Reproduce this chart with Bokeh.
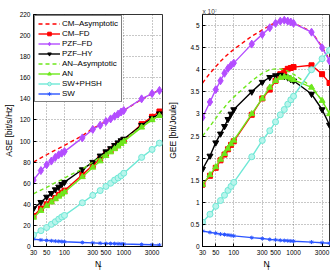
from bokeh.plotting import figure
from bokeh.layouts import row
from bokeh.models import FixedTicker, NumeralTickFormatter, Range1d, LogAxis
from bokeh.embed import file_html
from bokeh.resources import INLINE

NT = [30, 40, 50, 60, 70, 80, 90, 100, 200, 300, 400, 500, 600, 700, 800, 900, 1000, 2000, 3000, 4000]

# ASE [bit/s/Hz]
ase_cm_asym = [80, 84, 87, 89.5, 91.5, 93, 94.5, 96, 105, 112, 115.5, 118.8, 121.3, 123.6, 125.6, 127.5, 129, 139.5, 145, 148.5]
ase_cm_fd = [29, 36, 40, 43, 46, 49, 51, 53, 68, 77, 83, 88, 91, 94, 97, 99, 101, 116, 123, 128]
ase_pzf_fd = [63, 72, 77.5, 81, 84.5, 87, 88.5, 90, 103, 111, 115, 118.5, 121, 123.5, 125.5, 127.5, 129, 140, 145, 148]
ase_pzf_hy = [36, 42, 47, 50.5, 54, 56.5, 59, 61, 73, 80, 86, 90, 93, 96, 98.5, 100.5, 102, 115, 121.5, 126]
ase_an_asym = [50, 53.5, 56, 58.5, 60.5, 62, 63.5, 65, 73.5, 80, 84.5, 88.5, 91.5, 94.5, 97, 99, 101, 113.5, 120.5, 124.5]
ase_an = [27.5, 34, 38.5, 42, 45, 47.5, 49.5, 51.5, 66, 75, 81, 86, 89.5, 92.5, 95, 97.5, 99.5, 113, 120, 124]
ase_sw_phsh = [11, 15, 18, 21, 23.5, 26, 28, 29.5, 41.5, 48.5, 53, 57, 60, 63, 65, 67, 69.5, 84.5, 92, 98]
ase_sw = [7, 6.2, 5.8, 5.4, 5.1, 4.9, 4.7, 4.5, 3.8, 3.4, 3.1, 2.9, 2.8, 2.7, 2.6, 2.5, 2.4, 1.9, 1.6, 1.4]

# GEE [bit/Joule], in units of 1e7
gee_cm_asym = [3.70, 3.92, 4.07, 4.19, 4.28, 4.35, 4.41, 4.46, 4.76, 4.9, 5.0, 5.07, 5.11, 5.12, 5.11, 5.09, 5.06, 4.86, 4.52, 4.22]
gee_cm_fd = [1.4, 1.6, 1.78, 1.95, 2.08, 2.2, 2.3, 2.38, 2.98, 3.35, 3.55, 3.75, 3.9, 3.97, 4.02, 4.04, 4.06, 4.1, 3.9, 3.7]
gee_pzf_fd = [2.92, 3.27, 3.55, 3.75, 3.92, 4.03, 4.1, 4.15, 4.58, 4.8, 4.95, 5.05, 5.1, 5.12, 5.1, 5.08, 5.05, 4.85, 4.5, 4.2]
gee_pzf_hy = [1.75, 2.05, 2.35, 2.55, 2.72, 2.88, 3.0, 3.1, 3.5, 3.72, 3.83, 3.87, 3.88, 3.85, 3.82, 3.78, 3.75, 3.45, 3.1, 2.75]
gee_an_asym = [2.5, 2.72, 2.9, 3.05, 3.15, 3.25, 3.32, 3.38, 3.75, 3.92, 4.0, 4.02, 4.02, 4.0, 3.97, 3.93, 3.9, 3.62, 3.3, 3.0]
gee_an = [1.4, 1.62, 1.8, 1.97, 2.1, 2.22, 2.32, 2.4, 3.0, 3.35, 3.6, 3.75, 3.82, 3.84, 3.83, 3.8, 3.77, 3.6, 3.3, 3.0]
gee_sw_phsh = [0.55, 0.73, 0.91, 1.04, 1.16, 1.27, 1.36, 1.45, 2.03, 2.4, 2.62, 2.82, 2.98, 3.1, 3.22, 3.32, 3.4, 4.0, 4.25, 4.44]
gee_sw = [0.35, 0.32, 0.3, 0.28, 0.27, 0.26, 0.25, 0.24, 0.2, 0.18, 0.16, 0.15, 0.14, 0.135, 0.13, 0.125, 0.12, 0.1, 0.085, 0.075]

x_ticks = [30, 50, 100, 300, 500, 1000, 3000]
ase_ticks = list(range(0, 221, 20))
gee_ticks = [0, 0.5, 1, 1.5, 2, 2.5, 3, 3.5, 4, 4.5, 5]
gee_tick_labels = ["0", "0.5", "1", "1.5", "2", "2.5", "3", "3.5", "4", "4.5", "5"]

names = ["CM\u2013Asymptotic", "CM\u2013FD", "PZF\u2013FD", "PZF\u2013HY",
         "AN\u2013Asymptotic", "AN", "SW+PHSH", "SW"]

RED = "#ff0000"
PURPLE = "#b44dff"
BLACK = "#000000"
GREEN = "#6ee81c"
CYAN = "#6fe8d6"
BLUE = "#2b55ff"
FONT = "Liberation Sans"

styles = [
    # color, dash, marker, size, fill
    (RED, "4 3", None, 0, None),
    (RED, "solid", "square", 5, RED),
    (PURPLE, "solid", "diamond", 8, PURPLE),
    (BLACK, "solid", "inverted_triangle", 6, BLACK),
    (GREEN, "4 3", None, 0, None),
    (GREEN, "solid", "triangle", 6, GREEN),
    (CYAN, "solid", "circle", 6, "#b8f5ec"),
    (BLUE, "solid", "asterisk", 4, BLUE),
]


def make_fig(width, border_left, border_right, x_end, y_end, ylabel, title, ylabel_standoff):
    p = figure(width=width, height=273, x_axis_type="log",
               x_range=Range1d(30, x_end), y_range=Range1d(0, y_end),
               output_backend="svg", toolbar_location=None,
               min_border_left=border_left, min_border_right=border_right,
               min_border_top=14, min_border_bottom=0)
    p.title.text = title
    p.title.text_font = FONT
    p.title.text_font_size = "6.5px"
    p.title.text_font_style = "normal"
    p.title.align = "left"
    p.title.standoff = 0
    p.title.offset = 0
    p.outline_line_color = "black"
    p.outline_line_width = 0.8
    p.background_fill_color = "white"
    p.border_fill_color = "white"
    p.xaxis.ticker = FixedTicker(ticks=x_ticks)
    p.xaxis.formatter = NumeralTickFormatter(format="0")
    p.xaxis.axis_label = "N"
    for ax in (p.xaxis, p.yaxis):
        ax.major_tick_in = 3
        ax.major_tick_out = 0
        ax.minor_tick_line_color = None
        ax.axis_line_color = "black"
        ax.major_tick_line_color = "black"
        ax.major_label_text_font = FONT
        ax.major_label_text_font_size = "6.5px"
        ax.major_label_text_color = "black"
        ax.axis_label_text_font = FONT
        ax.axis_label_text_font_size = "8.5px"
        ax.axis_label_text_font_style = "normal"
        ax.axis_label_text_color = "black"
        ax.major_label_standoff = 3
        ax.axis_label_standoff = 1
    p.yaxis.axis_label = ylabel
    p.yaxis.axis_label_standoff = ylabel_standoff
    # subscript "T" of the x-axis label N_T, drawn as a label-only axis below
    sub = LogAxis(ticker=FixedTicker(ticks=[]), axis_label="\u2009\u2009\u2009T",
                  axis_line_color=None, major_tick_line_color=None,
                  minor_tick_line_color=None, major_label_text_font_size="0px",
                  axis_label_text_font=FONT, axis_label_text_font_size="6px",
                  axis_label_text_font_style="normal", axis_label_text_color="black",
                  axis_label_standoff=-7, major_label_standoff=0)
    p.add_layout(sub, "below")
    for g in (p.xgrid, p.ygrid):
        g.grid_line_color = "black"
        g.grid_line_alpha = 0.55
        g.grid_line_dash = "1 2"
        g.grid_line_width = 0.8
    p.xgrid.ticker = FixedTicker(ticks=x_ticks)
    return p


p1 = make_fig(165, 29, 3, 4500, 220, "ASE [bit/s/Hz]", "\u2009", 3)
p1.yaxis.ticker = FixedTicker(ticks=ase_ticks)
p1.ygrid.ticker = FixedTicker(ticks=ase_ticks)

p2 = make_fig(165, 33, 0, 4150, 5.25, "GEE [bit/Joule]", "x 10\u2077", 9)
p2.yaxis.ticker = FixedTicker(ticks=gee_ticks)
p2.ygrid.ticker = FixedTicker(ticks=gee_ticks)
p2.yaxis.major_label_overrides = {t: s for t, s in zip(gee_ticks, gee_tick_labels)}

ase_series = [ase_cm_asym, ase_cm_fd, ase_pzf_fd, ase_pzf_hy, ase_an_asym, ase_an, ase_sw_phsh, ase_sw]
gee_series = [gee_cm_asym, gee_cm_fd, gee_pzf_fd, gee_pzf_hy, gee_an_asym, gee_an, gee_sw_phsh, gee_sw]

for p, series, with_legend in ((p1, ase_series, True), (p2, gee_series, False)):
    for name, ys, (col, dash, marker, size, fill) in zip(names, series, styles):
        kw = {"legend_label": name} if with_legend else {}
        p.line(NT, ys, line_color=col, line_width=1.4, line_dash=dash, **kw)
        if marker:
            p.scatter(NT, ys, marker=marker, size=size, line_color=col,
                      fill_color=fill, line_width=1.0, **kw)

lg = p1.legend[0]
lg.location = "top_left"
lg.label_text_font = FONT
lg.label_text_font_size = "8px"
lg.label_text_color = "black"
lg.label_height = 9
lg.glyph_height = 9
lg.glyph_width = 22
lg.spacing = 1
lg.padding = 3
lg.margin = 1
lg.label_standoff = 2
lg.border_line_color = "black"
lg.border_line_width = 0.8
lg.background_fill_alpha = 1.0

layout = row(p1, p2)
open("out.html", "w").write(file_html(layout, INLINE))
